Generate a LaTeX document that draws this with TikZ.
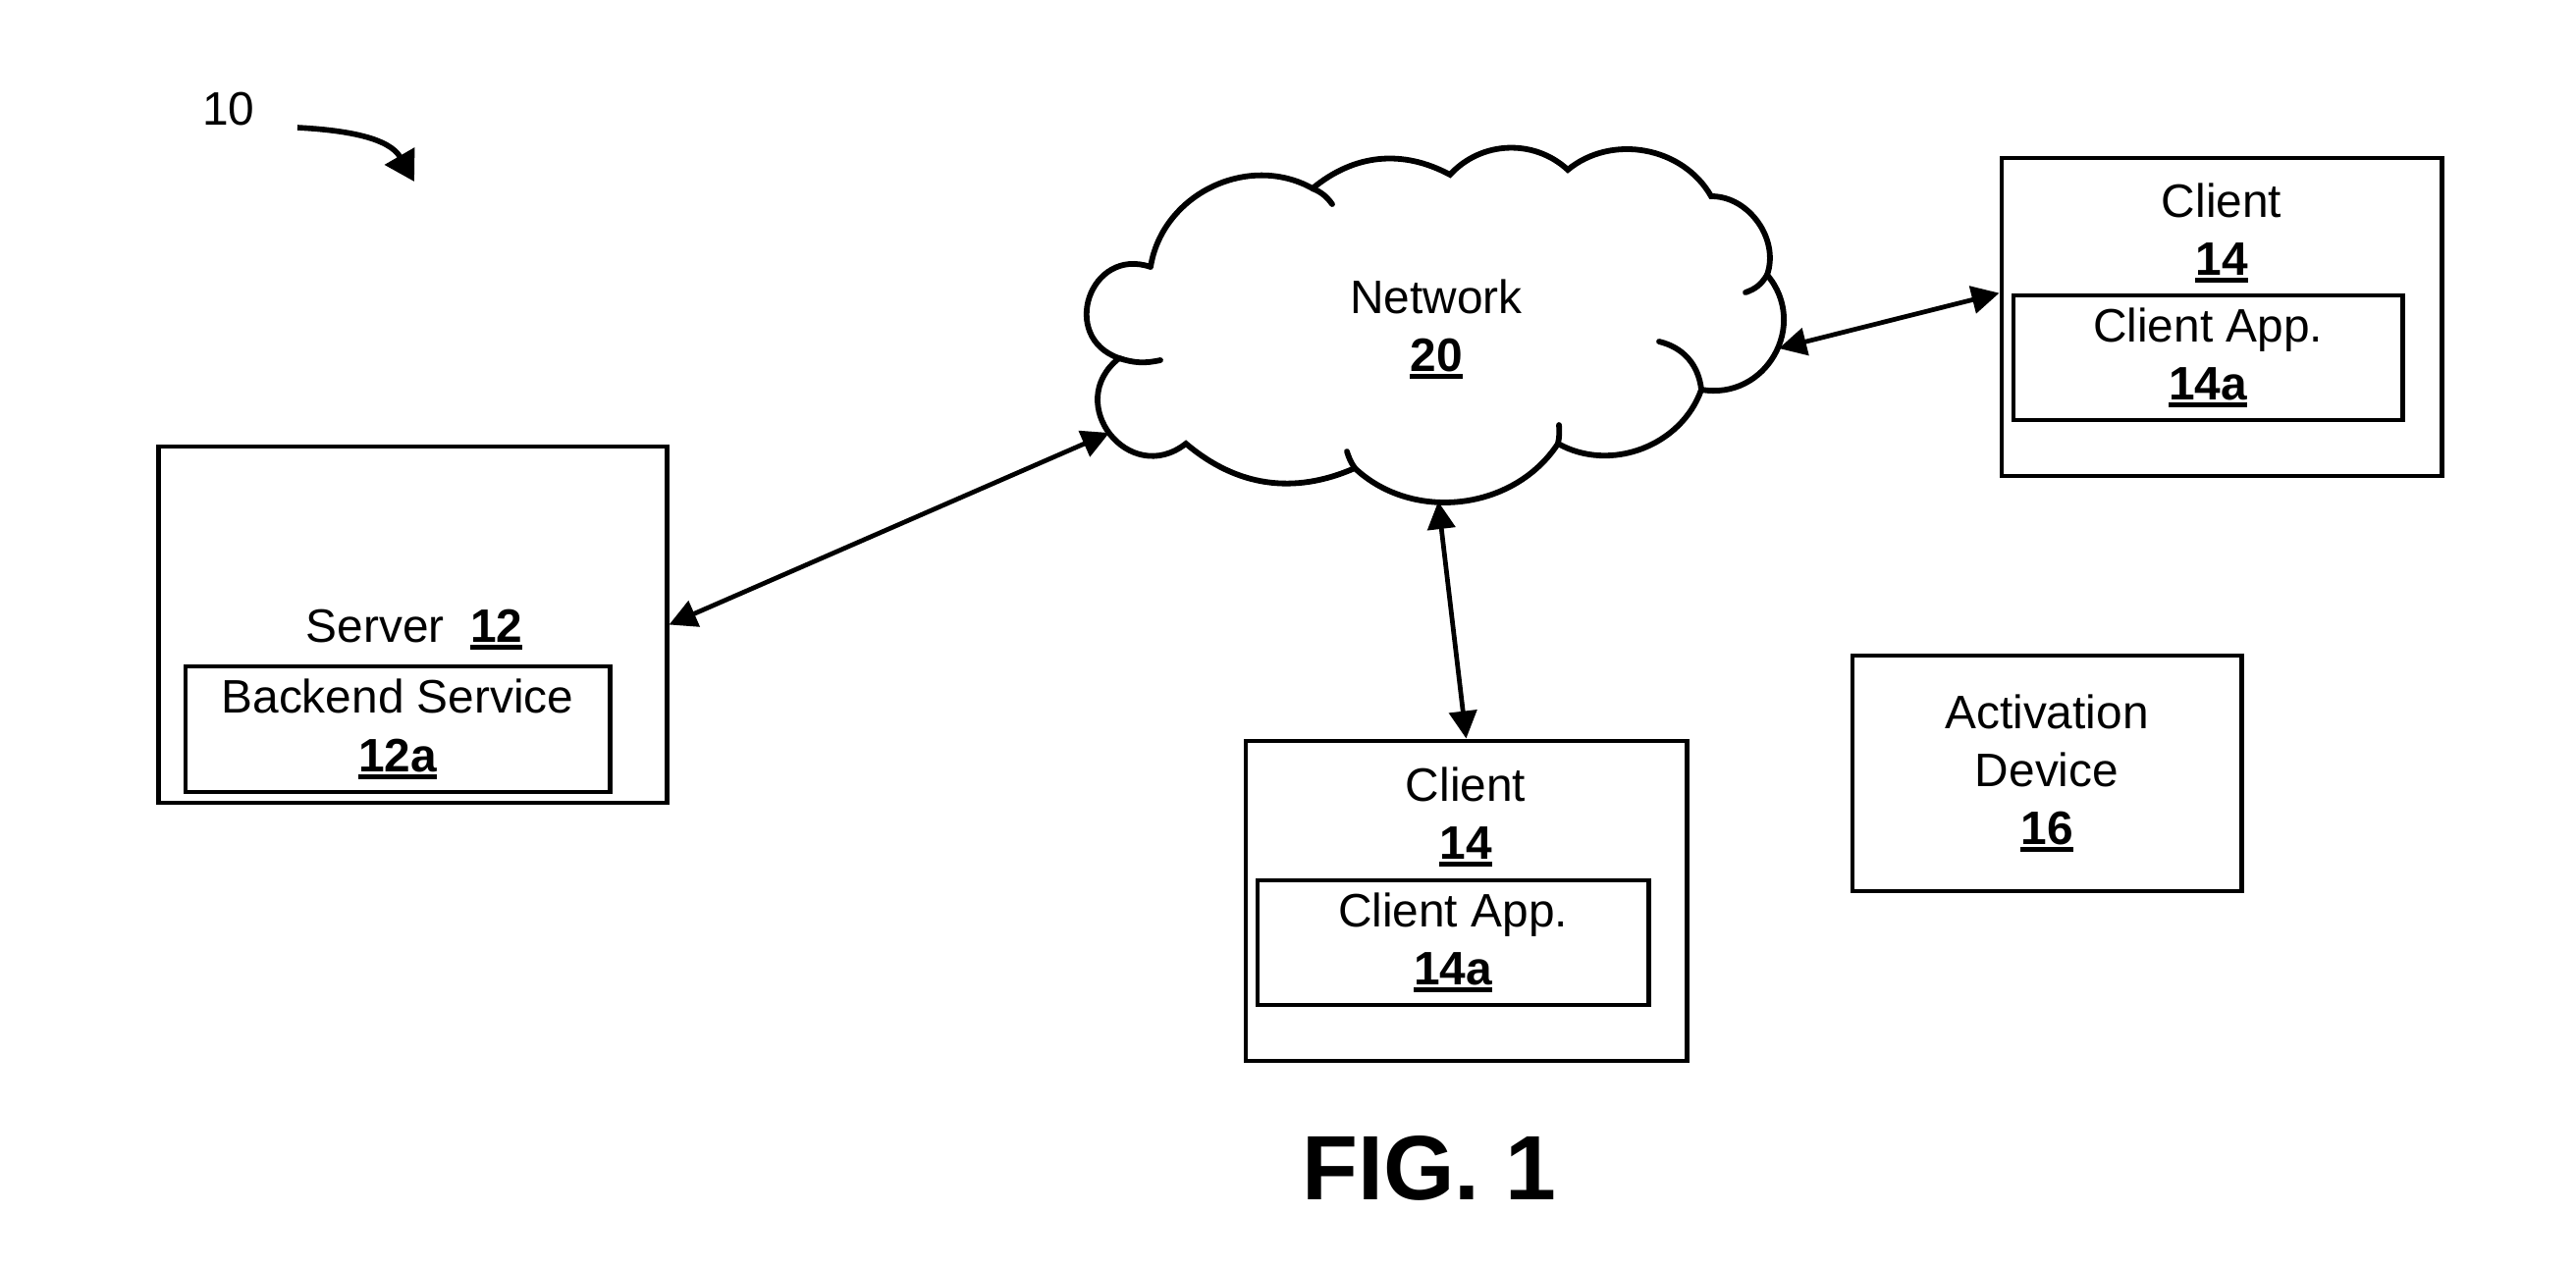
\documentclass[tikz,border=0pt]{standalone}
\usepackage{fontspec}
\setmainfont{Liberation Sans}
\usetikzlibrary{arrows.meta}
\newcommand{\refno}[1]{\setbox0\hbox{\bfseries #1}\rlap{\rule[-0.16em]{\wd0}{0.1em}}\box0}

\begin{document}
\begin{tikzpicture}[x=0.01cm,y=-0.01cm,
    font=\fontsize{13.6}{16.8}\selectfont,
    box/.style={draw,line width=1.35pt,inner sep=0pt,align=center},
    txt/.style={inner sep=0pt,anchor=north,align=center},
    cld/.style={line width=1.65pt,line cap=round},
    lnk/.style={{Triangle[length=2.8mm,width=2.8mm]}-{Triangle[length=2.8mm,width=2.8mm]},line width=1.35pt},
    ptr/.style={-{Triangle[length=3mm,width=3.4mm]},line width=1.6pt}]

  \useasboundingbox (0,0) rectangle (2624,1290);

  % system reference
  \node[txt] (sysno) at (233,93) {10};
  \coordinate (sysA) at (303,130);
  \coordinate (sysB) at (422,185);
  \draw[ptr] (sysA) to[out=-3,in=120] (sysB);

  % network cloud
  \draw[cld] (1172,272) to[bend left=55,looseness=1.05] (1337,192)
    to[bend left=34] (1477,178)
    to[bend left=45] (1597,173)
    to[bend left=50] (1743,200)
    to[bend left=55] (1800,280)
    to[bend left=70,looseness=1.27] (1733,397)
    to[bend left=50] (1587,452)
    to[bend left=50] (1380,477)
    to[bend left=32] (1208,452)
    to[bend left=90,looseness=1.7] (1140,365)
    to[bend left=90,looseness=1.7] (1172,272);
  \draw[cld] (1337,192) to[bend left=15] (1357,208);
  \draw[cld] (1140,365) to[bend right=15] (1182,367);
  \draw[cld] (1800,280) to[bend left=20] (1778,298);
  \draw[cld] (1733,397) to[bend right=35] (1690,348);
  \draw[cld] (1587,452) to[bend right=8] (1588,433);
  \draw[cld] (1380,477) to[bend left=8] (1372,460);
  \node[txt] (net) at (1463,284) {Network\\\refno{20}};
  \coordinate (netW) at (1130,441);
  \coordinate (netE) at (1812,355);
  \coordinate (netS) at (1465,511);

  % server
  \node[box,minimum width=5.17cm,minimum height=3.63cm] (srv) at (420.5,636.5) {};
  \node[txt] (srvlbl) at (422,620) {Server~~\refno{12}};
  \node[box,minimum width=4.32cm,minimum height=1.28cm] (bes) at (405,743)
    {Backend Service\\\refno{12a}};

  % clients
  \node[box,minimum width=4.49cm,minimum height=3.26cm] (cliB) at (1493.5,918) {};
  \node[txt] (cliBlbl) at (1493,781) {Client\\\refno{14}};
  \node[box,minimum width=3.98cm,minimum height=1.27cm] (appB) at (1480,960.5)
    {Client App.\\\refno{14a}};

  \node[box,minimum width=4.48cm,minimum height=3.24cm] (cliR) at (2263,323) {};
  \node[txt] (cliRlbl) at (2263,186) {Client\\\refno{14}};
  \node[box,minimum width=3.96cm,minimum height=1.27cm] (appR) at (2249,364.5)
    {Client App.\\\refno{14a}};

  % activation device
  \node[box,minimum width=3.96cm,minimum height=2.4cm] (act) at (2085,788)
    {Activation\\Device\\\refno{16}};

  \draw[lnk] (srv.east) -- (netW);
  \draw[lnk] (netE) -- (cliR.west |- appR.north);
  \draw[lnk] (netS) -- (cliB.north);

  \node[txt,font=\bfseries\fontsize{26.5}{31}\selectfont] (fig) at (1456,1157) {FIG. 1};
\end{tikzpicture}
\end{document}
